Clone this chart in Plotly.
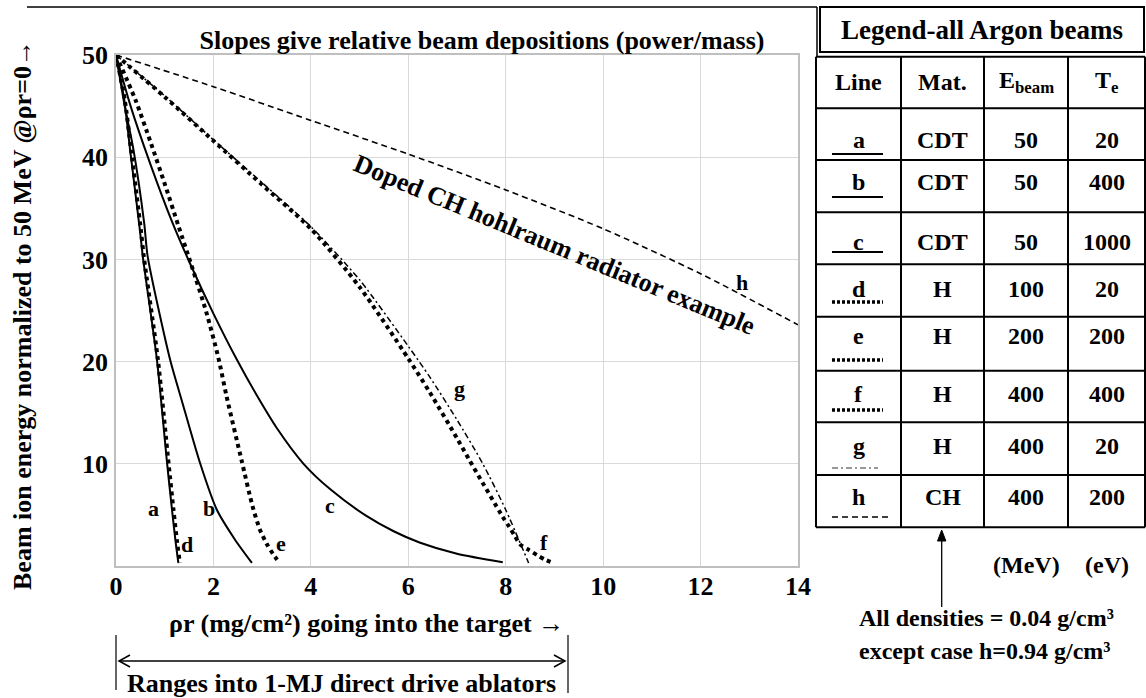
import plotly.graph_objects as go

# ---------------- data ----------------
a_x = [0, 0.17, 0.29, 0.49, 0.55, 0.84, 1.05, 1.15, 1.22, 1.28]
a_y = [50, 45.6, 40.7, 32.9, 30.3, 20.2, 10.0, 5.5, 2.5, 0.3]

d_x = [0, 0.18, 0.31, 0.51, 0.57, 0.86, 1.08, 1.18, 1.25, 1.31]
d_y = [50, 45.6, 40.7, 32.9, 30.3, 20.2, 10.0, 5.5, 2.5, 0.3]

b_x = [0, 0.18, 0.36, 0.58, 0.65, 1.11, 1.35, 1.73, 2.07, 2.44, 2.79]
b_y = [50, 45.0, 40.7, 33.5, 30.3, 20.2, 16.2, 10.0, 5.5, 2.6, 0.3]

c_x = [0, 0.3, 0.7, 1.15, 1.52, 2.0, 2.48, 2.89, 3.3, 3.85, 4.4, 5.14, 5.7, 6.23, 7.0, 7.94]
c_y = [50, 45.0, 39.4, 33.7, 29.6, 24.7, 20.2, 16.7, 13.5, 10.0, 7.5, 4.9, 3.4, 2.3, 1.2, 0.36]

e_x = [0, 0.4, 0.7, 1.0, 1.28, 1.55, 1.85, 2.10, 2.27, 2.58, 2.80, 2.95, 3.09, 3.22, 3.35]
e_y = [50, 45.6, 41.6, 37.4, 33.3, 29.4, 24.9, 20.4, 16.6, 10.3, 5.9, 3.6, 2.2, 1.2, 0.35]

f_x = [0, 1, 2, 3, 4, 5, 6, 6.44, 7, 7.25, 7.94, 8.07, 8.18, 8.30, 8.48, 8.65, 8.82, 9.0]
f_y = [50, 45.9, 41.6, 37.3, 33.0, 27.3, 20.3, 17.0, 12.5, 10.4, 4.8, 3.85, 3.0, 2.1, 1.55, 1.05, 0.6, 0.26]

g_x = [0, 1, 2, 3, 4, 5, 6, 6.44, 7, 7.53, 8.0, 8.47]
g_y = [50, 46.0, 41.7, 37.5, 33.2, 28.0, 21.5, 18.5, 14.3, 10.0, 5.5, 0.3]

h_x = [0, 2, 4, 6, 8, 10, 12, 14]
h_y = [50, 46.9, 43.6, 40.3, 36.8, 33.0, 28.6, 23.6]

curve_labels = ["a", "b", "c", "d", "e", "f", "g", "h"]
label_x = [0.77, 1.9, 4.39, 1.46, 3.39, 8.79, 7.05, 12.85]
label_y = [5.6, 5.6, 5.9, 2.1, 2.2, 2.3, 17.4, 27.7]

x_ticks = [0, 2, 4, 6, 8, 10, 12, 14]
y_ticks = [10, 20, 30, 40, 50]

# legend table contents
tbl_header = ["Line", "Mat.", "E<sub>beam</sub>", "T<sub>e</sub>"]
tbl_line = ["a", "b", "c", "d", "e", "f", "g", "h"]
tbl_mat = ["CDT", "CDT", "CDT", "H", "H", "H", "H", "CH"]
tbl_ebeam = ["50", "50", "50", "100", "200", "400", "400", "400"]
tbl_te = ["20", "400", "1000", "20", "200", "400", "20", "200"]

# ---------------- styles ----------------
FONT = "Liberation Serif"
BLACK = "#000000"
styles = {
    "a": dict(color=BLACK, width=2, dash="solid"),
    "b": dict(color=BLACK, width=2, dash="solid"),
    "c": dict(color=BLACK, width=2, dash="solid"),
    "d": dict(color=BLACK, width=4, dash="4px,4px"),
    "e": dict(color=BLACK, width=4, dash="4px,4px"),
    "f": dict(color=BLACK, width=4, dash="4px,4px"),
    "g": dict(color=BLACK, width=1.5, dash="6px,3px,2px,3px"),
    "h": dict(color=BLACK, width=1.6, dash="6px,4px"),
}
series = {
    "h": (h_x, h_y), "g": (g_x, g_y), "f": (f_x, f_y), "e": (e_x, e_y),
    "d": (d_x, d_y), "c": (c_x, c_y), "b": (b_x, b_y), "a": (a_x, a_y),
}

W, H = 1146, 698
L, R, T, B = 116, 798, 55, 566


def xp(px):
    return (px - L) / (R - L)


def yp(py):
    return (B - py) / (B - T)


fig = go.Figure()
for k, (xs, ys) in series.items():
    st = dict(styles[k])
    fig.add_trace(go.Scatter(x=xs, y=ys, mode="lines",
                             line=dict(st, shape="spline", smoothing=0.7),
                             name=k, showlegend=False, hoverinfo="skip"))

ann = []


def ptext(px, py, text, font, angle=0):
    ann.append(dict(x=xp(px), y=yp(py), xref="paper", yref="paper", text=text,
                    showarrow=False, xanchor="center", yanchor="middle",
                    textangle=angle, font=font))


def f_(size):
    return dict(family=FONT, size=size, color=BLACK, weight="bold")


# curve letter labels
for t, lx, ly in zip(curve_labels, label_x, label_y):
    ann.append(dict(x=lx, y=ly, xref="x", yref="y", text=t, showarrow=False,
                    xanchor="center", yanchor="middle", font=f_(22)))

# rotated annotation
ptext(554, 244, "Doped CH hohlraum radiator example", f_(26), angle=22.5)

# axis titles
ptext(366, 623, "ρr (mg/cm²) going into the target →", f_(26))
ptext(22, 315, "Beam ion energy normalized to 50 MeV @ρr=0→", f_(26), angle=-90)

# bottom range text
ptext(341, 683, "Ranges into 1-MJ direct drive ablators", f_(26))

# table
col_edges = [816, 901, 984, 1068, 1145]
row_edges = [56.7, 108.3, 160, 212.3, 264.3, 316.7, 370.7, 422.3, 475, 527.3]
text_y = [82, 140, 182, 242, 289, 336, 394, 446, 497]
sample_y = [154, 197, 252, 302, 360, 410, 468, 517]
col_cx = [(col_edges[i] + col_edges[i + 1]) / 2 for i in range(4)]

tfont = f_(24)
ptext(982, 30, "Legend-all Argon beams", f_(27))
for j, htxt in enumerate(tbl_header):
    ptext(col_cx[j], text_y[0], htxt, tfont)
for i in range(len(tbl_line)):
    vals = [tbl_line[i], tbl_mat[i], tbl_ebeam[i], tbl_te[i]]
    for j, v in enumerate(vals):
        ptext(col_cx[j], text_y[i + 1], v, tfont)

ptext(1026, 565, "(MeV)", tfont)
ptext(1107, 565, "(eV)", tfont)
ptext(986, 618, "All densities = 0.04 g/cm³", tfont)
ptext(984, 651, "except case h=0.94 g/cm³", tfont)

shapes = []


def pline(x0, y0, x1, y1, width=1.5, color=BLACK, dash="solid"):
    shapes.append(dict(type="line", xref="paper", yref="paper",
                       x0=xp(x0), y0=yp(y0), x1=xp(x1), y1=yp(y1),
                       line=dict(color=color, width=width, dash=dash)))


def ppath(points, closed=False, fill=None, width=1.5):
    d = "M " + " L ".join(f"{xp(x):.5f},{yp(y):.5f}" for x, y in points)
    if closed:
        d += " Z"
    shapes.append(dict(type="path", xref="paper", yref="paper", path=d,
                       line=dict(color=BLACK, width=width),
                       fillcolor=fill if fill else "rgba(0,0,0,0)"))


# top rule and divider
pline(27, 7, 817, 7)
pline(817, 7, 817, 57)
# legend title box
shapes.append(dict(type="rect", xref="paper", yref="paper",
                   x0=xp(820), y0=yp(52), x1=xp(1144), y1=yp(7),
                   line=dict(color=BLACK, width=2)))
# table grid
for ry in row_edges:
    pline(col_edges[0], ry, col_edges[-1], ry, width=2)
for cx in col_edges:
    pline(cx, row_edges[0], cx, row_edges[-1], width=2)
# legend line samples
sample_len = {"g": 878, "h": 892}
for i, k in enumerate(tbl_line):
    st = styles[k]
    x1 = sample_len.get(k, 883)
    col = "#777777" if k == "g" else BLACK
    w = st["width"] if k not in ("d", "e", "f") else 3.5
    dash = st["dash"] if k not in ("d", "e", "f") else "3px,2px"
    pline(832, sample_y[i], x1, sample_y[i], width=w, color=col, dash=dash)

# arrow from note up to the table
pline(941.7, 607, 941.7, 536, width=1.3)
ppath([(937.5, 541), (941.7, 530), (945.9, 541)], closed=True, fill=BLACK,
      width=1)

# bottom range bars and double arrow
pline(116, 635, 116, 690, width=1.2)
pline(568, 635, 568, 693, width=1.2)
pline(119, 661, 565, 661, width=1.5)
ppath([(130, 655), (119, 661), (130, 667)], width=1.5)
ppath([(554, 655), (565, 661), (554, 667)], width=1.5)

fig.update_layout(
    width=W, height=H,
    margin=dict(l=L, r=W - R, t=T, b=H - B, pad=0),
    paper_bgcolor="white", plot_bgcolor="white",
    showlegend=False,
    title=dict(text="Slopes give relative beam depositions (power/mass)",
               x=482 / W, xref="container", xanchor="center",
               y=1 - 40 / H, yref="container", yanchor="middle",
               font=f_(26)),
    annotations=ann,
    shapes=shapes,
)
fig.update_xaxes(range=[0, 14], tickvals=x_ticks, showgrid=True,
                 gridcolor="#d9d9d9", gridwidth=1, zeroline=False,
                 showline=True, linecolor="#bfbfbf", linewidth=1.5, mirror=True,
                 ticks="", ticklabelstandoff=-4, tickfont=f_(26))
fig.update_yaxes(range=[0, 50], tickvals=y_ticks, showgrid=True,
                 gridcolor="#d9d9d9", gridwidth=1, zeroline=False,
                 showline=True, linecolor="#bfbfbf", linewidth=1.5, mirror=True,
                 ticks="", ticklabelstandoff=1, tickfont=f_(26))

fig.write_html("out.html", config={"displayModeBar": False},
               post_script="document.body.style.margin='0px';")
